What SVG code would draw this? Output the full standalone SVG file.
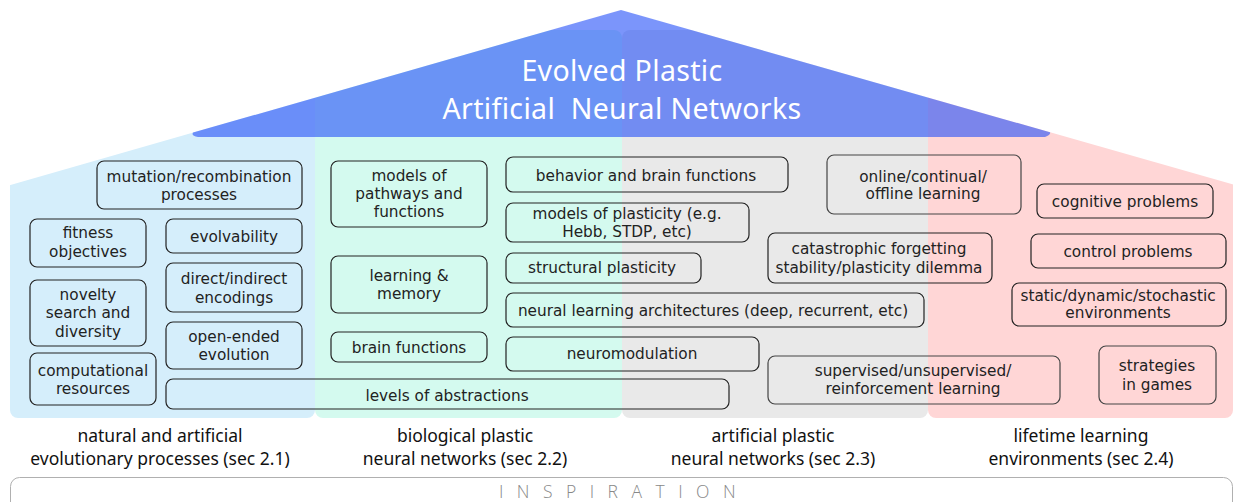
<svg xmlns="http://www.w3.org/2000/svg" width="1235" height="502" viewBox="0 0 1235 502">
<style>
.box{fill:none;stroke:#222;stroke-width:1.2}
.bt{font-family:"DejaVu Sans",Verdana,sans-serif;font-size:15.3px;fill:#222;text-anchor:middle}
.lab{font-family:"Noto Sans","Open Sans",sans-serif;font-size:17.5px;fill:#111;text-anchor:middle}
.title{font-family:"Noto Sans","Open Sans",sans-serif;font-size:28.5px;letter-spacing:0.35px;fill:#fff;text-anchor:middle}
</style>
<defs>
<clipPath id="house"><polygon points="0,187.9 621,10 1240,186.4 1240,502 0,502"/></clipPath>
</defs>
<rect width="1235" height="502" fill="#fff"/>
<g id="columns" clip-path="url(#house)">
<rect id="col-evo" x="10" y="30" width="305" height="388" rx="8" fill="#d5eefb"/>
<rect id="col-bio" x="315" y="30" width="307" height="388" rx="8" fill="#d4faef"/>
<rect id="col-art" x="622" y="30" width="306" height="388" rx="8" fill="#e9e9e9"/>
<rect id="col-life" x="928" y="30" width="305" height="388" rx="8" fill="#ffd6d6"/>
</g>
<g id="roof">
<path d="M193,132.6 L621,10 L1050,132.3 Q1051,135 1045,137 L198,137 Q191,136 193,132.6 Z" fill="#234ef8" fill-opacity="0.6"/>
<text class="title" x="622" y="80.5">Evolved Plastic</text>
<text class="title" x="622" y="119" xml:space="preserve">Artificial  Neural Networks</text>
</g>
<g id="nodes">
<g id="n-mutation"><rect class="box" x="97" y="161" width="205" height="48" rx="7"/><text class="bt" x="199" y="182">mutation/recombination</text><text class="bt" x="199" y="200">processes</text></g>
<g id="n-fitness"><rect class="box" x="30" y="219" width="116" height="48" rx="7"/><text class="bt" x="88" y="238">fitness</text><text class="bt" x="88" y="257">objectives</text></g>
<g id="n-evolvability"><rect class="box" x="166" y="219" width="136" height="34" rx="7"/><text class="bt" x="234" y="242">evolvability</text></g>
<g id="n-novelty"><rect class="box" x="30" y="280" width="116" height="66" rx="7"/><text class="bt" x="88" y="300">novelty</text><text class="bt" x="88" y="318">search and</text><text class="bt" x="88" y="337">diversity</text></g>
<g id="n-encodings"><rect class="box" x="166" y="263" width="136" height="49" rx="7"/><text class="bt" x="234" y="284">direct/indirect</text><text class="bt" x="234" y="303">encodings</text></g>
<g id="n-computational"><rect class="box" x="30" y="353" width="126" height="52" rx="7"/><text class="bt" x="93" y="376">computational</text><text class="bt" x="93" y="394">resources</text></g>
<g id="n-openended"><rect class="box" x="166" y="322" width="136" height="47" rx="7"/><text class="bt" x="234" y="342">open-ended</text><text class="bt" x="234" y="360">evolution</text></g>
<g id="n-levels"><rect class="box" x="166" y="379" width="563" height="30" rx="7"/><text class="bt" x="447" y="401">levels of abstractions</text></g>
<g id="n-pathways"><rect class="box" x="331" y="161" width="156" height="66" rx="7"/><text class="bt" x="409" y="181">models of</text><text class="bt" x="409" y="199">pathways and</text><text class="bt" x="409" y="217">functions</text></g>
<g id="n-learning"><rect class="box" x="331" y="256" width="156" height="57" rx="7"/><text class="bt" x="409" y="281">learning &amp;</text><text class="bt" x="409" y="299">memory</text></g>
<g id="n-brain"><rect class="box" x="331" y="332" width="156" height="30" rx="7"/><text class="bt" x="409" y="353">brain functions</text></g>
<g id="n-behavior"><rect class="box" x="506" y="157" width="282" height="35" rx="7"/><text class="bt" x="646" y="181">behavior and brain functions</text></g>
<g id="n-plasticity"><rect class="box" x="506" y="203" width="243" height="39" rx="7"/><text class="bt" x="627" y="219">models of plasticity (e.g.</text><text class="bt" x="627" y="237">Hebb, STDP, etc)</text></g>
<g id="n-structural"><rect class="box" x="506" y="253" width="195" height="30" rx="7"/><text class="bt" x="602" y="273">structural plasticity</text></g>
<g id="n-architectures"><rect class="box" x="506" y="293" width="418" height="34" rx="7"/><text class="bt" x="713" y="316">neural learning architectures (deep, recurrent, etc)</text></g>
<g id="n-neuromodulation"><rect class="box" x="506" y="337" width="253" height="34" rx="7"/><text class="bt" x="632" y="359">neuromodulation</text></g>
<g id="n-online"><rect class="box" x="827" y="155" width="194" height="59" rx="7" style="stroke:#444"/><text class="bt" x="923" y="182">online/continual/</text><text class="bt" x="923" y="199">offline learning</text></g>
<g id="n-catastrophic"><rect class="box" x="768" y="233" width="224" height="50" rx="7"/><text class="bt" x="879" y="254">catastrophic forgetting</text><text class="bt" x="879" y="273">stability/plasticity dilemma</text></g>
<g id="n-cognitive"><rect class="box" x="1037" y="184" width="176" height="34" rx="7"/><text class="bt" x="1125" y="207">cognitive problems</text></g>
<g id="n-control"><rect class="box" x="1031" y="234" width="195" height="34" rx="7"/><text class="bt" x="1128" y="257">control problems</text></g>
<g id="n-static"><rect class="box" x="1012" y="283" width="214" height="43" rx="7"/><text class="bt" x="1118" y="301">static/dynamic/stochastic</text><text class="bt" x="1118" y="318">environments</text></g>
<g id="n-supervised"><rect class="box" x="768" y="356" width="292" height="48" rx="7" style="stroke:#444"/><text class="bt" x="913" y="376">supervised/unsupervised/</text><text class="bt" x="913" y="394">reinforcement learning</text></g>
<g id="n-strategies"><rect class="box" x="1099" y="346" width="117" height="58" rx="7" style="stroke:#444"/><text class="bt" x="1157" y="371">strategies</text><text class="bt" x="1157" y="390">in games</text></g>
</g>
<g id="labels">
<text class="lab" x="160" y="442">natural and artificial</text>
<text class="lab" x="160" y="465">evolutionary processes (sec 2.1)</text>
<text class="lab" x="465" y="442">biological plastic</text>
<text class="lab" x="465" y="465">neural networks (sec 2.2)</text>
<text class="lab" x="773" y="442">artificial plastic</text>
<text class="lab" x="773" y="465">neural networks (sec 2.3)</text>
<text class="lab" x="1081" y="442">lifetime learning</text>
<text class="lab" x="1081" y="465">environments (sec 2.4)</text>
</g>
<g id="inspiration">
<rect x="10.5" y="477.5" width="1222" height="40" rx="9" fill="none" stroke="#b0b0b0" stroke-width="1"/>
<text x="624" y="498" font-family="'Open Sans','Noto Sans',sans-serif" font-weight="300" font-size="17.5" fill="#888" text-anchor="middle" letter-spacing="13.5">INSPIRATION</text>
</g>
<g id="connectors"/>
</svg>
